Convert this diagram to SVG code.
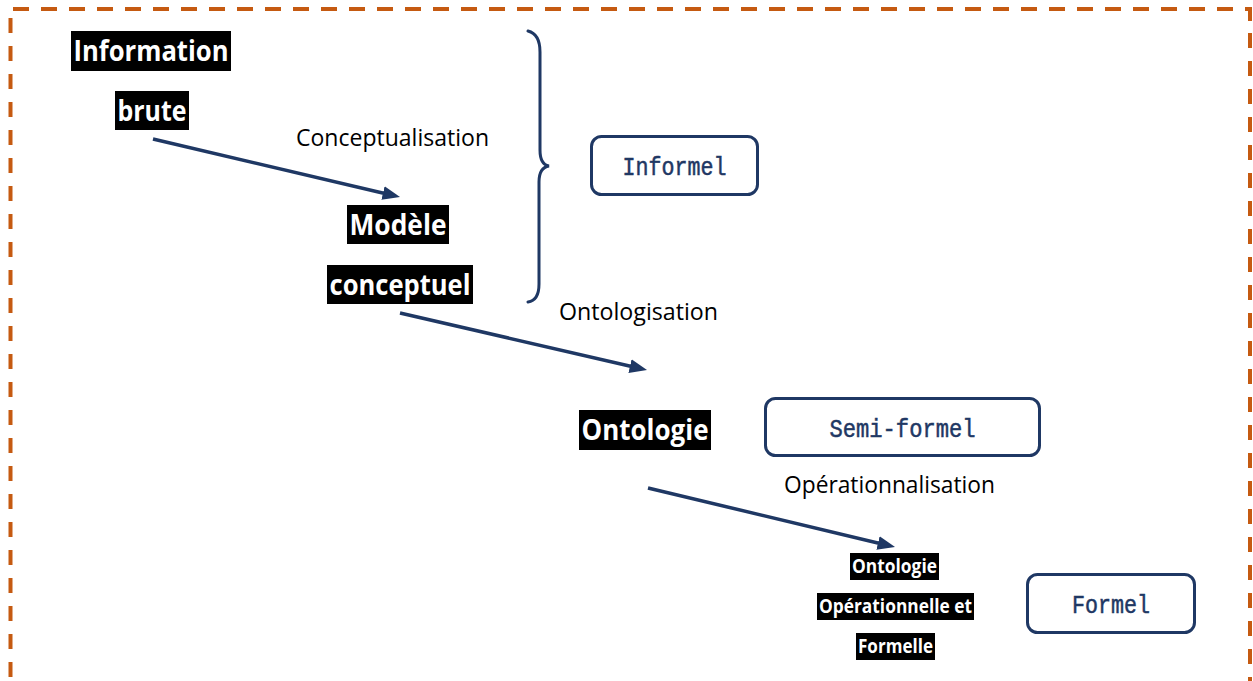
<svg xmlns="http://www.w3.org/2000/svg" width="1253" height="681" viewBox="0 0 1253 681">
  <style>
    .frame { fill: none; stroke: #C55A11; stroke-width: 4; }
    .flow { fill: none; stroke: #1F3864; stroke-width: 3.5; }
    .brace { fill: none; stroke: #1F3864; stroke-width: 3; stroke-linecap: round; }
    .hl { fill: #000000; }
    .hl-text { font-family: "Open Sans", "Noto Sans", sans-serif; font-weight: bold; fill: #FFFFFF; text-anchor: middle; }
    .big { font-size: 29px; }
    .small { font-size: 19px; }
    .label { font-family: "Open Sans", "Noto Sans", sans-serif; font-size: 24px; fill: #000000; }
    .level { fill: #FFFFFF; stroke: #1F3864; stroke-width: 3; }
    .level-text { font-family: "Liberation Mono", "DejaVu Sans Mono", monospace; font-size: 25px; fill: #1F3864; stroke: #1F3864; stroke-width: 0.5; text-anchor: middle; }
  </style>
  <defs>
    <marker id="arrow" viewBox="0 0 5 4" refX="2.7" refY="2" markerWidth="5" markerHeight="4" orient="auto" markerUnits="strokeWidth">
      <path d="M0,0 L5,2 L0,4 Z" fill="#1F3864"/>
    </marker>
  </defs>

  <rect width="1253" height="681" fill="#FFFFFF"/>

  <!-- dashed frame -->
  <g id="frame">
    <line class="frame" x1="13" y1="9" x2="1252" y2="9" stroke-dasharray="16 12"/>
    <line class="frame" x1="10.5" y1="18" x2="10.5" y2="681" stroke-dasharray="15 13"/>
    <path class="frame" d="M1246,9 H1250 V21"/>
    <line class="frame" x1="1250" y1="33" x2="1250" y2="681" stroke-dasharray="15 13"/>
  </g>

  <!-- connectors -->
  <g id="connectors">
    <line class="flow" x1="153" y1="139" x2="392.2" y2="195.2" marker-end="url(#arrow)"/>
    <line class="flow" x1="400" y1="313" x2="639.2" y2="368.2" marker-end="url(#arrow)"/>
    <line class="flow" x1="648" y1="488" x2="887.2" y2="545.2" marker-end="url(#arrow)"/>
    <path id="brace" class="brace" d="M528,31 C536,33 540,40 540,52 L540,150 C540,160 543,165 549,166 C543,167 539,172 539,182 L539,284 C539,296 535,301 528,302"/>
  </g>

  <!-- connector labels -->
  <g id="labels">
    <text class="label" x="296" y="146" textLength="193" lengthAdjust="spacingAndGlyphs">Conceptualisation</text>
    <text class="label" x="559" y="320" textLength="159" lengthAdjust="spacingAndGlyphs">Ontologisation</text>
    <text class="label" x="784" y="493" textLength="211" lengthAdjust="spacingAndGlyphs">Opérationnalisation</text>
  </g>

  <!-- stages -->
  <g id="node-information-brute">
    <rect class="hl" x="71" y="31" width="160" height="40"/>
    <text class="hl-text big" x="151" y="61" textLength="155" lengthAdjust="spacingAndGlyphs">Information</text>
    <rect class="hl" x="115" y="91" width="74" height="39"/>
    <text class="hl-text big" x="152" y="121" textLength="69" lengthAdjust="spacingAndGlyphs">brute</text>
  </g>

  <g id="node-modele-conceptuel">
    <rect class="hl" x="347" y="205" width="102" height="39"/>
    <text class="hl-text big" x="398" y="235" textLength="97" lengthAdjust="spacingAndGlyphs">Modèle</text>
    <rect class="hl" x="327" y="265" width="146" height="39"/>
    <text class="hl-text big" x="400" y="295" textLength="141" lengthAdjust="spacingAndGlyphs">conceptuel</text>
  </g>

  <g id="node-ontologie">
    <rect class="hl" x="579" y="410" width="132" height="40"/>
    <text class="hl-text big" x="645" y="440" textLength="127" lengthAdjust="spacingAndGlyphs">Ontologie</text>
  </g>

  <g id="node-ontologie-formelle">
    <rect class="hl" x="850" y="553" width="89" height="27"/>
    <text class="hl-text small" x="894.5" y="573" textLength="85" lengthAdjust="spacingAndGlyphs">Ontologie</text>
    <rect class="hl" x="817" y="593" width="157" height="27"/>
    <text class="hl-text small" x="895.5" y="613" textLength="153" lengthAdjust="spacingAndGlyphs">Opérationnelle et</text>
    <rect class="hl" x="856" y="633" width="79" height="27"/>
    <text class="hl-text small" x="895.5" y="653" textLength="75" lengthAdjust="spacingAndGlyphs">Formelle</text>
  </g>

  <!-- formality levels -->
  <g id="level-informel">
    <rect class="level" x="591.5" y="136.5" width="166" height="58" rx="10"/>
    <text class="level-text" x="674.5" y="175" textLength="104" lengthAdjust="spacingAndGlyphs">Informel</text>
  </g>

  <g id="level-semi-formel">
    <rect class="level" x="765.5" y="398.5" width="274" height="57" rx="10"/>
    <text class="level-text" x="902.5" y="437" textLength="146" lengthAdjust="spacingAndGlyphs">Semi-formel</text>
  </g>

  <g id="level-formel">
    <rect class="level" x="1027.5" y="574.5" width="167" height="58" rx="10"/>
    <text class="level-text" x="1111" y="613" textLength="78" lengthAdjust="spacingAndGlyphs">Formel</text>
  </g>
</svg>
